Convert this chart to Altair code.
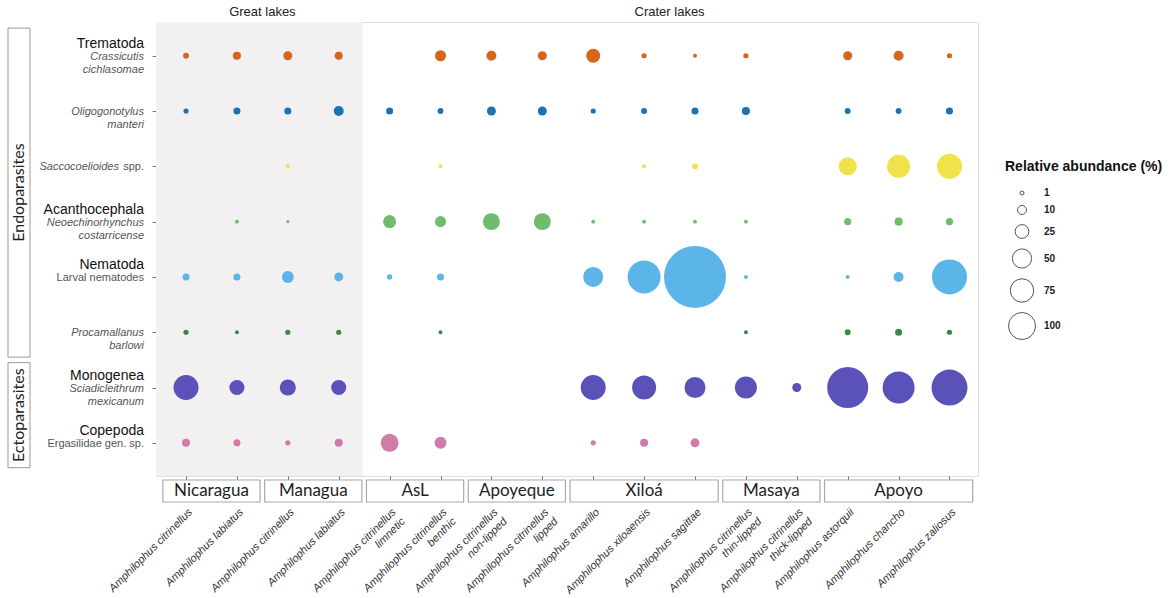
import json
import altair as alt
import pandas as pd

# ---------------- data ----------------
hosts = [
    "Amphilophus citrinellus", "Amphilophus labiatus",
    "Amphilophus citrinellus", "Amphilophus labiatus",
    "Amphilophus citrinellus|limnetic", "Amphilophus citrinellus|benthic",
    "Amphilophus citrinellus|non-lipped", "Amphilophus citrinellus|lipped",
    "Amphilophus amarillo", "Amphilophus xiloaensis", "Amphilophus sagittae",
    "Amphilophus citrinellus|thin-lipped", "Amphilophus citrinellus|thick-lipped",
    "Amphilophus astorquii", "Amphilophus chancho", "Amphilophus zaliosus",
]
lakes = ["Nicaragua", "Managua", "AsL", "Apoyeque", "Xiloá", "Masaya", "Apoyo"]
lake_start = [0, 2, 4, 6, 8, 11, 13]
lake_end = [1, 3, 5, 7, 10, 12, 15]
lake_types = ["Great lakes", "Crater lakes"]
type_start = [0, 4]
type_end = [3, 15]

parasites = [
    "Crassicutis cichlasomae", "Oligogonotylus manteri", "Saccocoelioides spp.",
    "Neoechinorhynchus costarricense", "Larval nematodes", "Procamallanus barlowi",
    "Sciadicleithrum mexicanum", "Ergasilidae gen. sp.",
]
phylum = ["Trematoda", "", "", "Acanthocephala", "Nematoda", "", "Monogenea", "Copepoda"]
name_line1 = ["Crassicutis", "Oligogonotylus", "Saccocoelioides", "Neoechinorhynchus",
              "Larval nematodes", "Procamallanus", "Sciadicleithrum", "Ergasilidae gen. sp."]
name_line2 = ["cichlasomae", "manteri", "", "costarricense", "", "barlowi", "mexicanum", ""]
name_italic = [True, True, True, True, False, True, True, False]
name_suffix = ["", "", "spp.", "", "", "", "", ""]
parasite_groups = ["Endoparasites", "Ectoparasites"]
pg_start = [0, 6]
pg_end = [5, 7]

N = None
crassicutis = [0.9, 1.7, 2.1, 1.7, N, 3.2, 2.6, 2.1, 5.1, 0.7, 0.4, 0.7, N, 2.1, 2.6, 0.7]
oligogonotylus = [0.7, 1.3, 1.3, 2.6, 1.3, 0.9, 2.1, 2.1, 0.7, 0.9, 1.3, 1.7, N, 0.9, 0.9, 1.3]
saccocoelioides = [N, N, 0.4, N, N, 0.4, N, N, N, 0.4, 0.9, N, N, 8.4, 13.8, 16.3]
neoechinorhynchus = [N, 0.4, 0.25, N, 4.4, 3.2, 7.5, 7.5, 0.4, 0.4, 0.4, 0.4, N, 1.3, 1.7, 1.3]
larval_nematodes = [1.3, 1.3, 3.7, 2.1, 0.7, 1.3, N, N, 10.4, 28.3, 100.0, 0.4, N, 0.4, 2.6, 31.9]
procamallanus = [0.7, 0.4, 0.7, 0.7, N, 0.4, N, N, N, N, N, 0.4, N, 0.9, 1.3, 0.7]
sciadicleithrum = [16.3, 5.9, 6.7, 5.9, N, N, N, N, 16.3, 15.0, 11.5, 12.6, 2.1, 43.7, 26.6, 33.7]
ergasilidae = [1.7, 1.3, 0.7, 1.7, 8.4, 3.7, N, N, 0.7, 1.7, 2.1, N, N, N, N, N]
abundance = [crassicutis, oligogonotylus, saccocoelioides, neoechinorhynchus,
             larval_nematodes, procamallanus, sciadicleithrum, ergasilidae]
colors = ["#D6661B", "#1B73B4", "#EFE24B", "#6FBC6F", "#5BB5E8", "#418544", "#5A51B9", "#D07CA8"]
legend_values = [1, 10, 25, 50, 75, 100]

# ---------------- tables ----------------
pts = []
for r, vals in enumerate(abundance):
    for c, v in enumerate(vals):
        if v is not None:
            pts.append({"row": r, "col": c, "parasite": parasites[r], "ab": v})
df = pd.DataFrame(pts)

labels_df = pd.DataFrame({
    "row": list(range(len(parasites))), "phylum": phylum, "l1": name_line1,
    "l2": name_line2, "italic": name_italic, "suffix": name_suffix,
})
lake_df = pd.DataFrame({
    "lake": lakes,
    "x0": [s - 0.455 for s in lake_start],
    "x1": [e + 0.455 for e in lake_end],
    "xm": [(s + e) / 2 for s, e in zip(lake_start, lake_end)],
})
type_df = pd.DataFrame({"t": lake_types, "xm": [(s + e) / 2 for s, e in zip(type_start, type_end)]})
pg_df = pd.DataFrame({
    "g": parasite_groups,
    "y0": [pg_start[0] - 0.5, pg_start[1] - 0.45],
    "y1": [pg_end[0] + 0.45, pg_end[1] + 0.45],
})
pg_df["ym"] = (pg_df["y0"] + pg_df["y1"]) / 2
legend_df = pd.DataFrame({"lv": legend_values, "col": 0, "row": 0})

X_DOM = [-0.59, 15.56]
Y_DOM = [-0.61, 7.6]
shade_df = pd.DataFrame({"x0": [X_DOM[0]], "x1": [type_end[0] + 0.47],
                         "y0": [Y_DOM[0]], "y1": [Y_DOM[1]]})

xs = alt.Scale(domain=X_DOM, nice=False, zero=False)
ys = alt.Scale(domain=Y_DOM, nice=False, zero=False, reverse=True)
FONT = "Liberation Sans"
label_expr = "split(" + json.dumps(hosts) + "[round(datum.value)], '|')"

x_axis = alt.Axis(values=list(range(16)), labelExpr=label_expr, labelAngle=-45,
                  labelAlign="right", labelBaseline="top", labelPadding=26,
                  labelFont=FONT, labelFontSize=11, labelFontStyle="italic",
                  labelColor="#333", labelLineHeight=13, tickSize=4,
                  tickColor="#777", domain=False, grid=False, labelOverlap=False,
                  title=None)
y_axis = alt.Axis(values=list(range(8)), labels=False, tickSize=4,
                  tickColor="#777", domain=False, grid=False, title=None)


def X(field):
    return alt.X(field, type="quantitative", scale=xs, axis=x_axis)


def Y(field):
    return alt.Y(field, type="quantitative", scale=ys, axis=y_axis)


# ---------------- layers ----------------
shade = alt.Chart(shade_df).mark_rect(color="#F2F0F0").encode(
    x=X("x0"), x2="x1", y=Y("y0"), y2="y1",
)

points = alt.Chart(df).mark_circle(opacity=1).encode(
    x=X("col"), y=Y("row"),
    size=alt.Size("ab:Q", scale=alt.Scale(domain=[0, 100], range=[0, 3844]), legend=None),
    color=alt.Color("parasite:N", scale=alt.Scale(domain=parasites, range=colors), legend=None),
)

legend_layer = alt.Chart(legend_df).mark_point(
    shape="circle", filled=False, color="#555", opacity=0, strokeWidth=1
).encode(
    x=X("col"), y=Y("row"),
    size=alt.Size("lv:Q", scale=alt.Scale(domain=[1, 100], range=[16, 729], zero=False),
                  legend=alt.Legend(title="Relative abundance (%)", values=legend_values,
                                    orient="none", legendX=849, legendY=138,
                                    titleFont=FONT, titleFontSize=14, titleFontWeight="bold",
                                    titleColor="#111", titlePadding=14,
                                    labelFont=FONT, labelFontSize=10, labelFontWeight="bold",
                                    labelColor="#222", labelOffset=8, rowPadding=5,
                                    symbolOffset=3,
                                    symbolStrokeColor="#555", symbolStrokeWidth=1)),
)

base_lab = alt.Chart(labels_df)
lab_phylum = base_lab.transform_filter("datum.phylum != ''").mark_text(
    align="right", baseline="middle", dy=-12, font=FONT, fontSize=14, color="#111"
).encode(x=alt.value(-12), y=Y("row"), text="phylum:N")
lab_l1_it = base_lab.transform_filter("datum.italic && datum.suffix == ''").mark_text(
    align="right", baseline="middle", dy=1, font=FONT, fontSize=11, fontStyle="italic", color="#555"
).encode(x=alt.value(-12), y=Y("row"), text="l1:N")
lab_l1_sfx = base_lab.transform_filter("datum.suffix != ''").mark_text(
    align="right", baseline="middle", dy=1, dx=-25, font=FONT, fontSize=11, fontStyle="italic", color="#555"
).encode(x=alt.value(-12), y=Y("row"), text="l1:N")
lab_sfx = base_lab.transform_filter("datum.suffix != ''").mark_text(
    align="right", baseline="middle", dy=1, font=FONT, fontSize=11, color="#555"
).encode(x=alt.value(-12), y=Y("row"), text="suffix:N")
lab_l1_rg = base_lab.transform_filter("!datum.italic").mark_text(
    align="right", baseline="middle", dy=1, font=FONT, fontSize=11, color="#555"
).encode(x=alt.value(-12), y=Y("row"), text="l1:N")
lab_l2 = base_lab.transform_filter("datum.l2 != ''").mark_text(
    align="right", baseline="middle", dy=14, font=FONT, fontSize=11, fontStyle="italic", color="#555"
).encode(x=alt.value(-12), y=Y("row"), text="l2:N")

pg_box = alt.Chart(pg_df).mark_rect(fill="white", stroke="#999", strokeWidth=1).encode(
    x=alt.value(-148), x2=alt.value(-126), y=Y("y0"), y2="y1",
)
pg_text = alt.Chart(pg_df).mark_text(angle=270, font="Lato", fontSize=16, color="#222",
                                     align="center", baseline="middle").encode(
    x=alt.value(-137), y=Y("ym"), text="g:N",
)

lake_box = alt.Chart(lake_df).mark_rect(fill="white", stroke="#aaa", strokeWidth=1.2).encode(
    x=X("x0"), x2="x1", y=alt.value(458), y2=alt.value(480),
)
lake_text = alt.Chart(lake_df).mark_text(font="Lato", fontSize=17, color="#222",
                                         align="center", baseline="middle").encode(
    x=X("xm"), y=alt.value(469), text="lake:N",
)
type_text = alt.Chart(type_df).mark_text(font=FONT, fontSize=13, color="#222",
                                         align="center", baseline="middle").encode(
    x=X("xm"), y=alt.value(-10), text="t:N",
)

chart = alt.layer(
    shade, lake_box, points, legend_layer, lab_phylum, lab_l1_it, lab_l1_sfx, lab_sfx,
    lab_l1_rg, lab_l2, pg_box, pg_text, lake_text, type_text,
).resolve_scale(size="independent").properties(
    width=822, height=454,
    autosize=alt.AutoSizeParams(type="none"),
    padding={"left": 156, "top": 22, "right": 197, "bottom": 122},
    background="white",
).configure_view(stroke="#8a8a8a", strokeWidth=1).configure(font=FONT)

chart.save("out.html", embed_options={"renderer": "svg", "actions": False})
